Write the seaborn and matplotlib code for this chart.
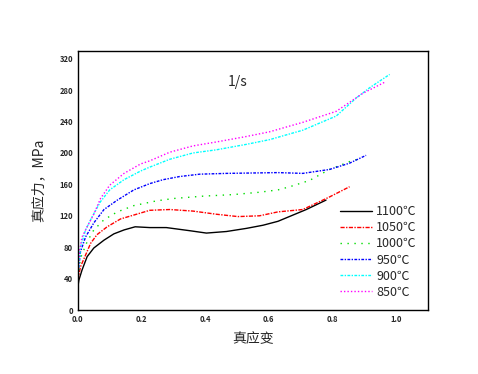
import pandas as pd
import matplotlib
matplotlib.use('Agg')
import matplotlib.pyplot as plt
import seaborn as sns
from matplotlib.ticker import MultipleLocator

# true stress-strain curves, strain rate 1/s
temps = ['1100℃', '1050℃', '1000℃', '950℃', '900℃', '850℃']

strain_1100 = [0.0, 0.003, 0.013, 0.029, 0.05, 0.082, 0.113, 0.145, 0.18, 0.226, 0.278,
               0.352, 0.404, 0.467, 0.53, 0.582, 0.629, 0.718, 0.78]
stress_1100 = [30, 38, 51, 68, 79, 89, 97, 102, 106, 105, 105,
               101, 98, 100, 104, 108, 113, 128, 140]

strain_1050 = [0.0, 0.008, 0.024, 0.04, 0.06, 0.092, 0.134, 0.176, 0.226, 0.289, 0.362,
               0.435, 0.503, 0.571, 0.629, 0.707, 0.791, 0.854]
stress_1050 = [38, 55, 70, 85, 96, 106, 116, 121, 127, 128, 126,
               122, 119, 120, 125, 128, 144, 157]

strain_1000 = [0.0, 0.008, 0.029, 0.05, 0.082, 0.124, 0.176, 0.247, 0.30, 0.393, 0.488,
               0.571, 0.629, 0.666, 0.728, 0.791, 0.86, 0.89]
stress_1000 = [42, 66, 87, 102, 115, 125, 133, 139, 142, 145, 147,
               150, 153, 157, 165, 179, 190, 193]

strain_950 = [0.0, 0.008, 0.024, 0.05, 0.082, 0.124, 0.176, 0.226, 0.268, 0.32, 0.383,
              0.467, 0.629, 0.707, 0.791, 0.854, 0.906]
stress_950 = [45, 74, 93, 111, 128, 140, 153, 161, 166, 170, 173,
              174, 175, 174, 179, 187, 197]

strain_900 = [0.0, 0.008, 0.024, 0.045, 0.071, 0.10, 0.145, 0.197, 0.226, 0.289, 0.362,
              0.435, 0.53, 0.603, 0.707, 0.812, 0.875, 0.917, 0.98]
stress_900 = [45, 80, 102, 119, 138, 153, 166, 177, 182, 192, 200,
              204, 211, 217, 229, 247, 270, 283, 300]

strain_850 = [0.0, 0.005, 0.013, 0.029, 0.05, 0.071, 0.10, 0.145, 0.197, 0.226, 0.289,
              0.362, 0.435, 0.53, 0.603, 0.707, 0.812, 0.896, 0.964]
stress_850 = [45, 75, 93, 106, 122, 142, 159, 174, 186, 190, 201,
              209, 214, 221, 227, 239, 253, 276, 290]

strains = [strain_1100, strain_1050, strain_1000, strain_950, strain_900, strain_850]
stresses = [stress_1100, stress_1050, stress_1000, stress_950, stress_900, stress_850]

colors = ['black', 'red', '#00dd00', 'blue', 'cyan', 'magenta']
styles = ['-', (0, (3, 1, 1, 1)), (0, (1, 4)), (0, (2, 1, 1, 1)), (0, (2, 1, 1, 1)), (0, (1, 1.5))]

sns.set_style('white')
plt.rcParams['font.family'] = ['Noto Sans CJK SC', 'DejaVu Sans']

fig = plt.figure(figsize=(4.78, 3.74), dpi=100)
ax = fig.add_axes([0.163, 0.171, 0.732, 0.693])

for t, x, y, c, ls in zip(temps, strains, stresses, colors, styles):
    df = pd.DataFrame({'strain': x, 'stress': y})
    sns.lineplot(data=df, x='strain', y='stress', ax=ax, color=c, linestyle=ls,
                 linewidth=1.0, label=t, sort=False)

ax.set_xlim(0, 1.1)
ax.set_ylim(0, 330)
ax.xaxis.set_minor_locator(MultipleLocator(0.1))
ax.yaxis.set_major_locator(MultipleLocator(40))
ax.yaxis.set_minor_locator(MultipleLocator(20))
ax.set_xticks([0, 0.2, 0.4, 0.6, 0.8, 1.0])
ax.set_xticklabels(['0.0', '0.2', '0.4', '0.6', '0.8', '1.0'])
ax.tick_params(which='both', direction='in', labelsize=5.5, width=0.8)
ax.tick_params(which='major', length=4)
ax.tick_params(which='minor', length=2)
for lab in ax.get_xticklabels() + ax.get_yticklabels():
    lab.set_fontweight('bold')
for s in ax.spines.values():
    s.set_linewidth(1.0)
    s.set_color('black')

ax.set_xlabel('真应变', fontsize=10, labelpad=6)
ax.set_ylabel('真应力，MPa', fontsize=10, labelpad=10)
ax.text(0.47, 285, '1/s', fontsize=10)

ax.legend(loc='lower right', bbox_to_anchor=(1.0, 0.0), frameon=False, fontsize=9,
          handlelength=2.6, handletextpad=0.3, labelspacing=0.25)

plt.savefig('out.png', dpi=100)
